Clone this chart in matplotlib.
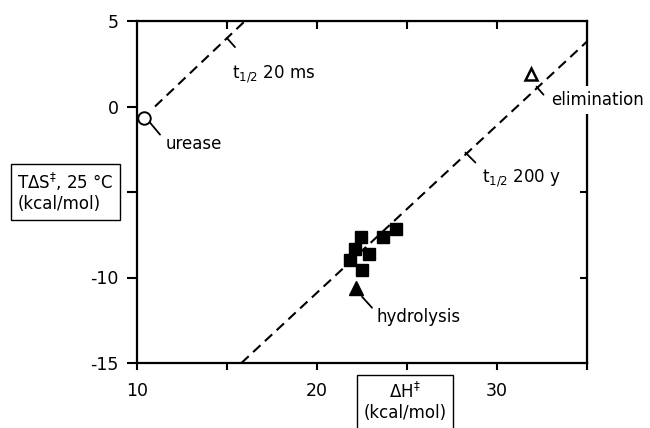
import matplotlib
matplotlib.use("Agg")
import matplotlib.pyplot as plt
from matplotlib.transforms import offset_copy

plt.rcParams["font.family"] = ["DejaVu Sans"]
plt.rcParams["mathtext.default"] = "regular"
plt.rcParams["axes.unicode_minus"] = False

# --- data ----------------------------------------------------------------
# Enzyme-catalysed reactions (filled squares)
enzyme_dh = [22.44, 23.67, 24.39, 22.11, 22.89, 21.83, 22.5]
enzyme_tds = [-7.63, -7.63, -7.16, -8.33, -8.63, -8.98, -9.56]

urease_dh, urease_tds = 10.39, -0.65
elim_dh, elim_tds = 31.9, 1.9
hydro_dh, hydro_tds = 22.17, -10.6

# Iso-rate lines (constant dG), t1/2 = 20 ms and t1/2 = 200 y
fast_dh = [11.0, 16.0]
fast_tds = [0.0, 5.0]
slow_dh = [15.8, 35.0]
slow_tds = [-15.0, 3.8]

# points on the lines marked with a little tick
fast_mark = (15.0, 4.0)
slow_mark_200y = (28.3, -2.75)
slow_mark_elim = (32.25, 1.1)

x_ticks = [10, 15, 20, 25, 30, 35]
x_tick_labels = ["10", "", "20", "", "30", ""]
y_ticks = [5, 0, -5, -10, -15]
# the -5 label sits under the boxed y title in the reference
y_tick_labels = ["5", "0", "", "-10", "-15"]

FS = 12

fig = plt.figure(figsize=(6.5, 4.28), dpi=100)
ax = fig.add_axes([137 / 650, 65 / 428, 450 / 650, 342 / 428])
ax.set_xlim(10, 35)
ax.set_ylim(-15, 5)

# dashed iso-rate lines
for xs, ys in ((fast_dh, fast_tds), (slow_dh, slow_tds)):
    (ln,) = ax.plot(xs, ys, color="black", linewidth=1.5, linestyle="--", zorder=2)
    ln.set_dashes((4.8, 2.9))

# markers
ax.plot(enzyme_dh, enzyme_tds, "s", color="black", markersize=8.5, zorder=4)
ax.plot(urease_dh, urease_tds, "o", mfc="white", mec="black", mew=1.4,
        markersize=9, zorder=4, clip_on=False)
ax.plot(elim_dh, elim_tds, "^", mfc="white", mec="black", mew=1.8,
        markersize=9, zorder=4)
ax.plot(hydro_dh, hydro_tds, "^", color="black", markersize=10, zorder=4)


def segment(x, y, start, end):
    """Short solid segment between two pixel offsets from a data point."""
    a = offset_copy(ax.transData, fig=fig, x=start[0], y=start[1], units="dots")
    b = offset_copy(ax.transData, fig=fig, x=end[0], y=end[1], units="dots")
    ax.annotate("", xy=(x, y), xycoords=a, xytext=(x, y), textcoords=b,
                arrowprops=dict(arrowstyle="-", lw=1.3, color="black",
                                shrinkA=0, shrinkB=0))


def label(x, y, text, off, **kw):
    ax.annotate(text, xy=(x, y), xytext=off, textcoords="offset pixels",
                ha="left", va="baseline", fontsize=FS, zorder=6, **kw)


# leaders + labels for single points
segment(urease_dh, urease_tds, (6, -5), (16, -17))
label(urease_dh, urease_tds, "urease", (22, -31))

segment(hydro_dh, hydro_tds, (6, -9), (16, -20))
label(hydro_dh, hydro_tds, "hydrolysis", (20, -34))

# ticks on the iso-rate lines
segment(*fast_mark, (0, 0), (8, -9))
label(*fast_mark, "t$_{1/2}$ 20 ms", (5, -40))

segment(*slow_mark_200y, (-1, 1), (9, -9))
label(*slow_mark_200y, "t$_{1/2}$ 200 y", (16, -29))

segment(*slow_mark_elim, (-1, 1), (6, -7))
label(*slow_mark_elim, "elimination", (14, -17),
      bbox=dict(boxstyle="square,pad=0.3", fc="white", ec="none"))

# --- axes styling ----------------------------------------------------------
for sp in ax.spines.values():
    sp.set_linewidth(1.6)

ax.set_xticks(x_ticks, labels=x_tick_labels)
ax.set_yticks(y_ticks, labels=y_tick_labels)
ax.tick_params(axis="x", direction="out", length=5, width=1.5, pad=9,
               labelsize=12.5)
ax.tick_params(axis="y", direction="out", length=7, width=1.5, pad=6,
               labelsize=12.5)

top = ax.secondary_xaxis("top")
top.set_xticks(x_ticks[1:-1])
top.tick_params(direction="in", length=6, width=1.5, labeltop=False)
right = ax.secondary_yaxis("right")
right.set_yticks(y_ticks[1:4])
right.tick_params(direction="in", length=5, width=1.5, labelright=False)

# boxed axis titles
box = dict(boxstyle="square,pad=0.4", fc="white", ec="black", lw=1.0)
fig.text(65.5 / 650, 1 - 192 / 428, "TΔS$^{\u2021}$, 25 °C\n(kcal/mol)",
         ha="center", va="center", multialignment="left", fontsize=FS,
         bbox=box, zorder=5)
fig.text(405 / 650, 1 - 402 / 428, "ΔH$^{\u2021}$\n(kcal/mol)",
         ha="center", va="center", multialignment="center", fontsize=FS,
         bbox=box, zorder=5)

fig.savefig("out.png", dpi=100)
